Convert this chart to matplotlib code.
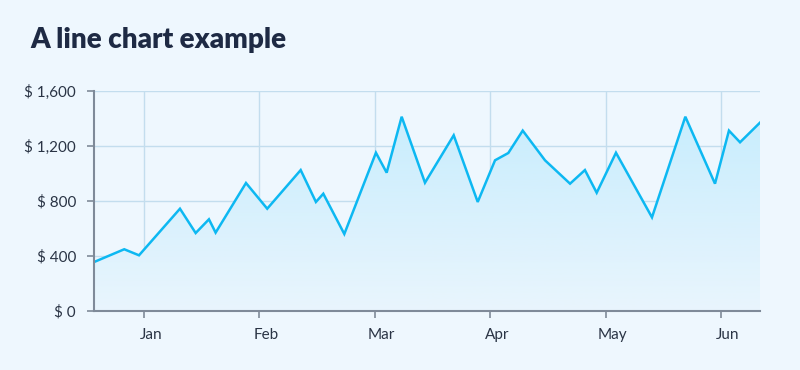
import matplotlib
matplotlib.use("Agg")
import matplotlib.pyplot as plt
import matplotlib.transforms as mtransforms
import numpy as np
from matplotlib.ticker import FuncFormatter
from matplotlib.colors import LinearSegmentedColormap

# Data: x position in months (0 = Jan), value in dollars
months = [-0.433, -0.171, -0.043, 0.312, 0.448, 0.563, 0.621, 0.884, 1.068, 1.358,
          1.490, 1.554, 1.736, 2.010, 2.103, 2.233, 2.435, 2.684, 2.892, 3.042,
          3.157, 3.282, 3.475, 3.692, 3.821, 3.923, 4.090, 4.402, 4.691, 4.948,
          5.069, 5.165, 5.338]
values = [356, 449, 405, 744, 567, 667, 570, 931, 744, 1025,
          793, 853, 560, 1151, 1006, 1413, 933, 1278, 793, 1096,
          1149, 1312, 1096, 926, 1025, 860, 1151, 681, 1413, 926,
          1312, 1227, 1370]
month_labels = ["Jan", "Feb", "Mar", "Apr", "May", "Jun"]
y_ticks = [0, 400, 800, 1200, 1600]
title = "A line chart example"

BG = "#EEF7FE"
LINE = "#0DB8F2"
GRID = "#C3DDEE"
AXIS = "#7F8A99"
TEXT = "#2A3445"

plt.rcParams['font.family'] = ['Lato', 'DejaVu Sans']

fig = plt.figure(figsize=(8, 3.7), dpi=100, facecolor=BG)
ax = fig.add_axes([94/800, 59/370, 666/800, 220/370])
ax.set_facecolor(BG)

x = np.array(months)
y = np.array(values)
xmin, xmax = x.min(), x.max()
ax.set_xlim(xmin, xmax)
ax.set_ylim(0, 1600)

# gradient fill under the line
poly = ax.fill_between(x, 0, y, facecolor="none", edgecolor="none")
cmap = LinearSegmentedColormap.from_list("g", ["#E9F5FD", "#C4ECFD"])
grad = np.linspace(1, 0, 256).reshape(-1, 1)
im = ax.imshow(grad, aspect="auto", cmap=cmap, extent=[xmin, xmax, 0, 1600],
               origin="upper", zorder=1, vmin=0, vmax=1)
im.set_clip_path(poly.get_paths()[0], transform=ax.transData)

ax.plot(x, y, color=LINE, lw=1.8, zorder=3, solid_joinstyle="miter")

ax.set_xticks(range(len(month_labels)))
ax.set_xticklabels(month_labels)
ax.set_yticks(y_ticks)
ax.yaxis.set_major_formatter(FuncFormatter(lambda v, p: f"$ {int(v):,}"))

ax.grid(True, color=GRID, lw=1, zorder=0)
ax.set_axisbelow(True)
for s in ["top", "right"]:
    ax.spines[s].set_visible(False)
for s in ["left", "bottom"]:
    ax.spines[s].set_color(AXIS)
    ax.spines[s].set_linewidth(1.5)
    ax.spines[s].set_zorder(4)

ax.tick_params(axis="both", colors=AXIS, length=5, width=1.2, labelcolor=TEXT, labelsize=11)
ax.tick_params(axis="x", pad=7)
ax.tick_params(axis="y", pad=8)

offset = mtransforms.ScaledTranslation(7/100, 0, fig.dpi_scale_trans)
for lab in ax.get_xticklabels():
    lab.set_transform(lab.get_transform() + offset)

fig.text(30/800, 1 - 40/370, title, fontsize=20, fontweight="heavy", color="#1E2A44",
         va="center", ha="left")

fig.savefig("out.png", dpi=100, facecolor=BG)
